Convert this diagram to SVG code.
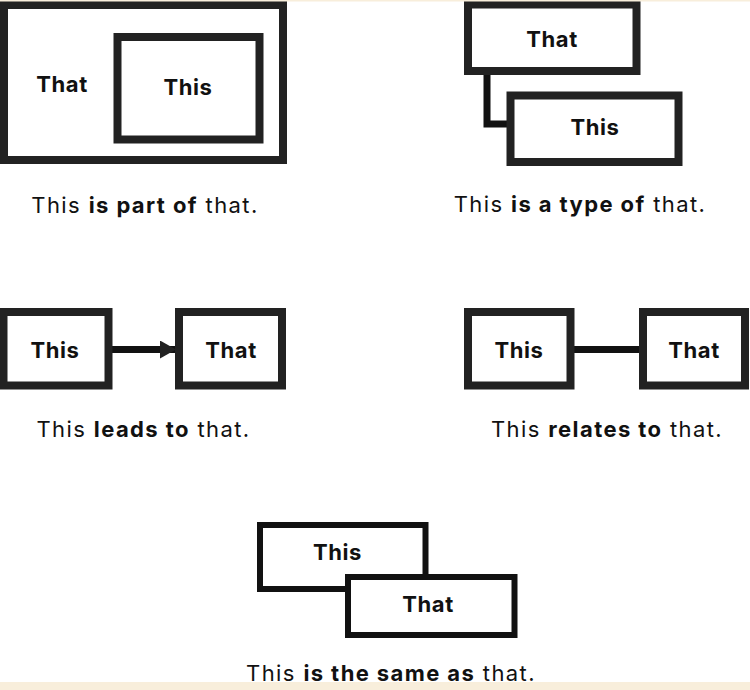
<svg xmlns="http://www.w3.org/2000/svg" width="750" height="690" viewBox="0 0 750 690">
<style>
.box{fill:#fff;stroke:#222;stroke-width:8}
.thin{fill:#fff;stroke:#111;stroke-width:6}
.lbl{font-family:Inter,"Liberation Sans",sans-serif;font-weight:700;font-size:22px;letter-spacing:0.6px;fill:#111;text-anchor:middle}
.cap{font-family:Inter,"Liberation Sans",sans-serif;font-weight:400;font-size:22px;letter-spacing:1.4px;fill:#111;text-anchor:middle}
.cap tspan.b{font-weight:700}
.conn{fill:none;stroke:#111;stroke-width:7}
</style>
<defs>
<marker id="arr" markerWidth="16" markerHeight="18" refX="15" refY="9" orient="auto" markerUnits="userSpaceOnUse">
<path d="M0,0 L16,9 L0,18 Z" fill="#222"/>
</marker>
</defs>
<rect x="0" y="0" width="750" height="690" fill="#fff"/>

<g id="connectors">
<path class="conn" d="M487,75 V124 H508"/>
<path class="conn" d="M112,349.5 H175" marker-end="url(#arr)"/>
<path class="conn" d="M574,349.5 H639"/>
</g>

<g id="p1-that">
<rect class="box" x="4" y="5" width="279" height="155"/>
<text class="lbl" x="62" y="92">That</text>
</g>
<g id="p1-this">
<rect class="box" x="117.5" y="37" width="142" height="102.5"/>
<text class="lbl" x="188" y="95">This</text>
</g>
<text class="cap" x="145" y="213">This <tspan class="b">is part of</tspan> that.</text>

<g id="p2-that">
<rect class="box" x="468" y="4.5" width="168.5" height="66.5"/>
<text class="lbl" x="552" y="47">That</text>
</g>
<g id="p2-this">
<rect class="box" x="510.5" y="95.5" width="168" height="66.5"/>
<text class="lbl" x="595" y="135">This</text>
</g>
<text class="cap" x="580" y="212">This <tspan class="b">is a type of</tspan> that.</text>

<g id="p3-this">
<rect class="box" x="3.5" y="312" width="105" height="73.5"/>
<text class="lbl" x="55" y="358">This</text>
</g>
<g id="p3-that">
<rect class="box" x="179" y="312" width="103" height="73.5"/>
<text class="lbl" x="231" y="358">That</text>
</g>
<text class="cap" x="143.5" y="437">This <tspan class="b">leads to</tspan> that.</text>

<g id="p4-this">
<rect class="box" x="468" y="312" width="102.5" height="73.5"/>
<text class="lbl" x="519" y="358">This</text>
</g>
<g id="p4-that">
<rect class="box" x="643" y="312" width="102" height="73.5"/>
<text class="lbl" x="694" y="358">That</text>
</g>
<text class="cap" x="607" y="437">This <tspan class="b">relates to</tspan> that.</text>

<g id="p5-this">
<rect class="thin" x="260" y="525" width="165.5" height="64"/>
<text class="lbl" x="337.5" y="560">This</text>
</g>
<g id="p5-that">
<rect class="thin" x="348" y="577" width="166.5" height="58"/>
<text class="lbl" x="428" y="612">That</text>
</g>
<text class="cap" x="391" y="681">This <tspan class="b">is the same as</tspan> that.</text>

<rect x="0" y="0" width="750" height="1.5" fill="#f8eedb"/>
<rect x="0" y="682" width="750" height="8" fill="#f8eedb"/>
</svg>
